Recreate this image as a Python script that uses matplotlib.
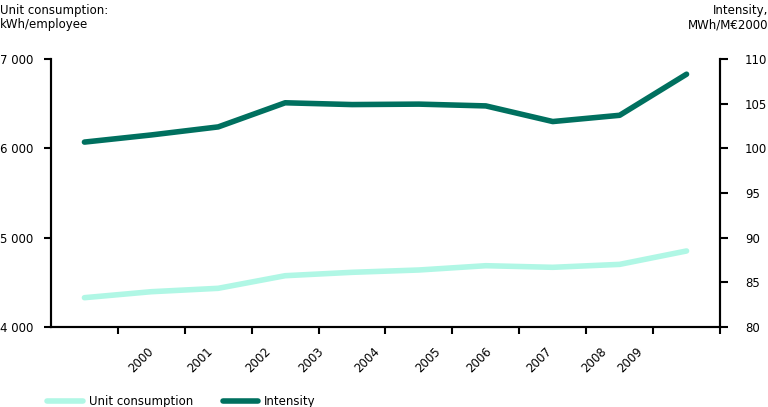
import numpy as np
import matplotlib.pyplot as plt
from matplotlib.ticker import FuncFormatter

years = ['2000', '2001', '2002', '2003', '2004', '2005', '2006', '2007', '2008', '2009']
unit_consumption = [4328, 4395, 4433, 4574, 4612, 4638, 4686, 4668, 4701, 4851]
intensity = [100.7, 101.5, 102.4, 105.1, 104.9, 104.95, 104.75, 103.0, 103.7, 108.3]

# where the rotated year labels sit (in category units), as in the original
label_pos = [1.43, 2.32, 3.18, 3.97, 4.82, 5.72, 6.49, 7.38, 8.20, 8.74]

light = '#b0f7e5'
dark = '#00705f'

plt.rcParams['font.family'] = 'DejaVu Sans'
plt.rcParams['font.size'] = 8.5

fig = plt.figure(figsize=(7.68, 4.07), dpi=100)
ax = fig.add_axes([0.0664, 0.1966, 0.8711, 0.6584])
ax2 = ax.twinx()

x = np.arange(len(years)) + 0.5
ax.plot(x, unit_consumption, color=light, lw=4, solid_capstyle='round', label='Unit consumption')
ax2.plot(x, intensity, color=dark, lw=4, solid_capstyle='round', label='Intensity')

ax.set_xlim(0, len(years))
ax.set_ylim(4000, 7000)
ax2.set_ylim(80, 110)
ax.set_yticks([4000, 5000, 6000, 7000])
ax.yaxis.set_major_formatter(FuncFormatter(lambda v, p: f'{int(v):,}'.replace(',', ' ')))
ax2.set_yticks([80, 85, 90, 95, 100, 105, 110])

ax.set_xticks(np.arange(1, len(years) + 1))
ax.set_xticklabels([])
ax.set_xticks(label_pos, minor=True)
ax.set_xticklabels(years, minor=True, rotation=45, ha='right', rotation_mode='anchor')
ax.tick_params(axis='x', which='minor', length=0, pad=13)
ax.tick_params(axis='x', which='major', length=5, width=1.5, direction='out')
ax.tick_params(axis='y', length=5, width=1.5, pad=8)
ax2.tick_params(axis='y', length=6, width=1.5, pad=12)

for a in (ax, ax2):
    a.spines['top'].set_visible(False)
    for s in ('left', 'right', 'bottom'):
        a.spines[s].set_linewidth(1.5)

fig.text(0.0, 0.99, 'Unit consumption:\nkWh/employee', ha='left', va='top',
         fontsize=8.5, linespacing=1.1)
fig.text(1.0, 0.99, 'Intensity,\nMWh/M€2000', ha='right', va='top',
         fontsize=8.5, linespacing=1.1)

h1, l1 = ax.get_legend_handles_labels()
h2, l2 = ax2.get_legend_handles_labels()
fig.legend(h1 + h2, l1 + l2, loc='lower left', bbox_to_anchor=(0.048, -0.028),
           ncol=2, frameon=False, handlelength=3.0, handletextpad=0.5,
           columnspacing=2.5, fontsize=8.5)

fig.savefig('out.png', dpi=100)
